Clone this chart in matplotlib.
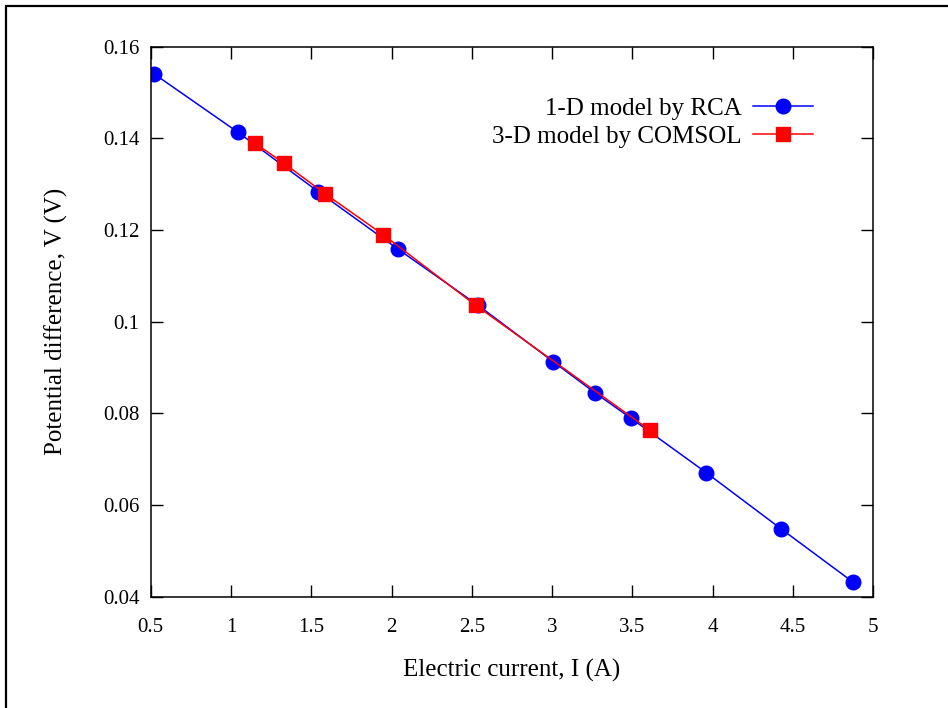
import matplotlib.pyplot as plt
from matplotlib.patches import Rectangle

# 1-D model by RCA
rca_current = [0.52, 1.045, 1.543, 2.038, 2.539, 3.007, 3.268, 3.49, 3.96, 4.428, 4.875]
rca_voltage = [0.1541, 0.1413, 0.1284, 0.1159, 0.1036, 0.0913, 0.0845, 0.0790, 0.0671, 0.0548, 0.0432]

# 3-D model by COMSOL
comsol_current = [1.148, 1.329, 1.587, 1.948, 2.524, 3.608]
comsol_voltage = [0.1390, 0.1346, 0.1279, 0.1190, 0.1036, 0.0764]

x_ticks = [0.5, 1, 1.5, 2, 2.5, 3, 3.5, 4, 4.5, 5]
x_tick_labels = ['0.5', '1', '1.5', '2', '2.5', '3', '3.5', '4', '4.5', '5']
y_ticks = [0.04, 0.06, 0.08, 0.1, 0.12, 0.14, 0.16]
y_tick_labels = ['0.04', '0.06', '0.08', '0.1', '0.12', '0.14', '0.16']


def main():
    plt.rcParams['font.family'] = ['Liberation Serif', 'DejaVu Serif']
    fig = plt.figure(figsize=(9.48, 7.08), dpi=100)
    ax = fig.add_axes([0.159, 0.157, 0.762, 0.777])

    # outer frame, cut at the right and bottom edges
    fig.patches.append(Rectangle((5.5 / 948, -0.1), 1.2, 1.1 - 6.5 / 708,
                                 transform=fig.transFigure, fill=False,
                                 edgecolor='black', linewidth=1.6))

    ax.plot(rca_current, rca_voltage, '-o', color='#0000ff', linewidth=1.1,
            markersize=10.5, label='1-D model by RCA')
    ax.plot(comsol_current, comsol_voltage, '-s', color='#ff0000', linewidth=1.1,
            markersize=10.5, label='3-D model by COMSOL')

    ax.set_xlim(0.5, 5)
    ax.set_ylim(0.04, 0.16)
    ax.set_xticks(x_ticks)
    ax.set_xticklabels(x_tick_labels)
    ax.set_yticks(y_ticks)
    ax.set_yticklabels(y_tick_labels)
    ax.tick_params(direction='in', length=8.5, width=1, top=True, right=True,
                   labelsize=15)
    ax.tick_params(axis='x', pad=15)
    ax.tick_params(axis='y', pad=8)
    for s in ax.spines.values():
        s.set_linewidth(1.1)

    ax.set_xlabel('Electric current, I (A)', fontsize=18, labelpad=16)
    ax.set_ylabel('Potential difference, V (V)', fontsize=18, labelpad=25.5)

    ax.legend(loc='upper right', frameon=False, markerfirst=False, fontsize=18,
              handlelength=2.4, handletextpad=0.45, labelspacing=0.2,
              borderaxespad=0.0, borderpad=0.0,
              bbox_to_anchor=(1 - 60 / 722, 1 - 51 / 550))

    fig.savefig('out.png', dpi=100)


if __name__ == "__main__":
    main()
